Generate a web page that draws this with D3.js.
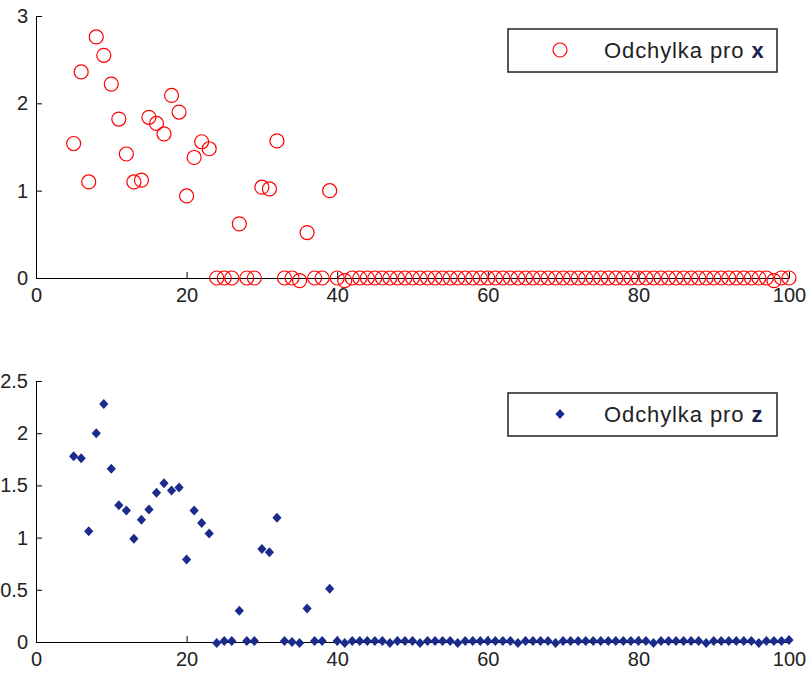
<!DOCTYPE html>
<html>
<head>
<meta charset="utf-8">
<script src="https://cdn.jsdelivr.net/npm/d3@7"></script>
<style>
	body { margin: 0; background: #fff; }
	svg text { font-family: "Liberation Sans", Arial, sans-serif; }
</style>
</head>
<body>
<svg width="809" height="676"></svg>
<script>
// two stacked panels: deviation for x (circles) and for z (diamonds)

// sample index runs 5..100
const sampleIdx = d3.range(5, 101)

const devX = [
	1.54, 2.36, 1.10, 2.76, 2.55, 2.22, 1.82, 1.42, 1.10, 1.12,
	1.84, 1.77, 1.65, 2.09, 1.90, 0.94, 1.38, 1.56, 1.48, 0,
	0, 0, 0.62, 0, 0, 1.04, 1.02, 1.57, 0, 0,
	-0.03, 0.52, 0, 0, 1.00, 0, -0.03, 0, 0, 0,
	0, 0, 0, 0, 0, 0, 0, 0, 0, 0,
	0, 0, 0, 0, 0, 0, 0, 0, 0, 0,
	0, 0, 0, 0, 0, 0, 0, 0, 0, 0,
	0, 0, 0, 0, 0, 0, 0, 0, 0, 0,
	0, 0, 0, 0, 0, 0, 0, 0, 0, 0,
	0, 0, 0, -0.03, 0, 0
]

const devZ = [
	1.78, 1.76, 1.06, 2.00, 2.28, 1.66, 1.31, 1.26, 0.99, 1.17,
	1.27, 1.43, 1.52, 1.45, 1.48, 0.79, 1.26, 1.14, 1.04, -0.01,
	0.01, 0.01, 0.30, 0.01, 0.01, 0.89, 0.86, 1.19, 0.01, 0,
	-0.01, 0.32, 0.01, 0.01, 0.51, 0.01, -0.01, 0.01, 0.01, 0.01,
	0.01, 0.01, -0.01, 0.01, 0.01, 0.01, -0.01, 0.01, 0.01, 0.01,
	0.01, -0.01, 0.01, 0.01, 0.01, 0.01, 0.01, 0.01, 0.01, -0.01,
	0.01, 0.01, 0.01, 0.01, -0.01, 0.01, 0.01, 0.01, 0.01, 0.01,
	0.01, 0.01, 0.01, 0.01, 0.01, 0.01, 0.01, -0.01, 0.01, 0.01,
	0.01, 0.01, 0.01, 0.01, -0.01, 0.01, 0.01, 0.01, 0.01, 0.01,
	0.01, -0.01, 0.01, 0.01, 0.01, 0.02
]

const xTicks = [0, 20, 40, 60, 80, 100]
const yTicksTop = [0, 1, 2, 3]
const yTicksBot = [0, 0.5, 1, 1.5, 2, 2.5]
const legendX = ['Odchylka pro ', 'x']
const legendZ = ['Odchylka pro ', 'z']

const svg = d3.select('svg')
svg.append('rect').attr('width', 809).attr('height', 676).attr('fill', '#fff')

const x = d3.scaleLinear().domain([0, 100]).range([36, 789])
const yTop = d3.scaleLinear().domain([0, 3]).range([278, 16])
const yBot = d3.scaleLinear().domain([0, 2.5]).range([642, 381])

const diamond = 'M0,-5L4.6,0L0,5L-4.6,0Z'

function drawAxes(y, yTicks) {
	const gx = svg.append('g')
		.attr('transform', 'translate(0,' + y.range()[0] + ')')
		.call(d3.axisBottom(x).tickValues(xTicks).tickSizeInner(-6).tickSizeOuter(0).tickPadding(10))
	const gy = svg.append('g')
		.attr('transform', 'translate(' + x.range()[0] + ',0)')
		.call(d3.axisLeft(y).tickValues(yTicks).tickSizeInner(-6).tickSizeOuter(0).tickPadding(8)
			.tickFormat(d => String(d)))
	;[gx, gy].forEach(g => {
		g.selectAll('text').attr('font-size', 20).attr('fill', '#222')
			.style('font-family', '"Liberation Sans", Arial, sans-serif')
		g.selectAll('line,path').attr('stroke', '#000')
	})
}

function drawLegend(top, labels, marker) {
	const g = svg.append('g')
	g.append('rect')
		.attr('x', 508).attr('y', top)
		.attr('width', 269).attr('height', 43)
		.attr('fill', '#fff').attr('stroke', '#222').attr('stroke-width', 1.5)
	marker(g, 560, top + 21)
	const t = g.append('text')
		.attr('x', 604).attr('y', top + 29)
		.attr('font-size', 22).attr('letter-spacing', 0.9).attr('fill', '#222')
	t.append('tspan').text(labels[0])
	t.append('tspan').attr('font-weight', 'bold').attr('fill', '#1a2050').text(labels[1])
}

// top panel
drawAxes(yTop, yTicksTop)
svg.append('g').selectAll('circle')
	.data(sampleIdx.map((d, i) => ({ i: d, v: devX[i] })))
	.join('circle')
	.attr('cx', d => x(d.i))
	.attr('cy', d => yTop(d.v))
	.attr('r', 7)
	.attr('fill', 'none')
	.attr('stroke', '#ff0000')
	.attr('stroke-width', 1.2)

drawLegend(29, legendX, (g, cx, cy) => {
	g.append('circle').attr('cx', cx).attr('cy', cy).attr('r', 7)
		.attr('fill', 'none').attr('stroke', '#ff0000').attr('stroke-width', 1.2)
})

// bottom panel
drawAxes(yBot, yTicksBot)
svg.append('g').selectAll('path.pt')
	.data(sampleIdx.map((d, i) => ({ i: d, v: devZ[i] })))
	.join('path')
	.attr('class', 'pt')
	.attr('d', diamond)
	.attr('transform', d => 'translate(' + x(d.i) + ',' + yBot(d.v) + ')')
	.attr('fill', '#1a2b8c')

drawLegend(393, legendZ, (g, cx, cy) => {
	g.append('path').attr('d', diamond)
		.attr('transform', 'translate(' + cx + ',' + cy + ')')
		.attr('fill', '#1a2b8c')
})
</script>
</body>
</html>
